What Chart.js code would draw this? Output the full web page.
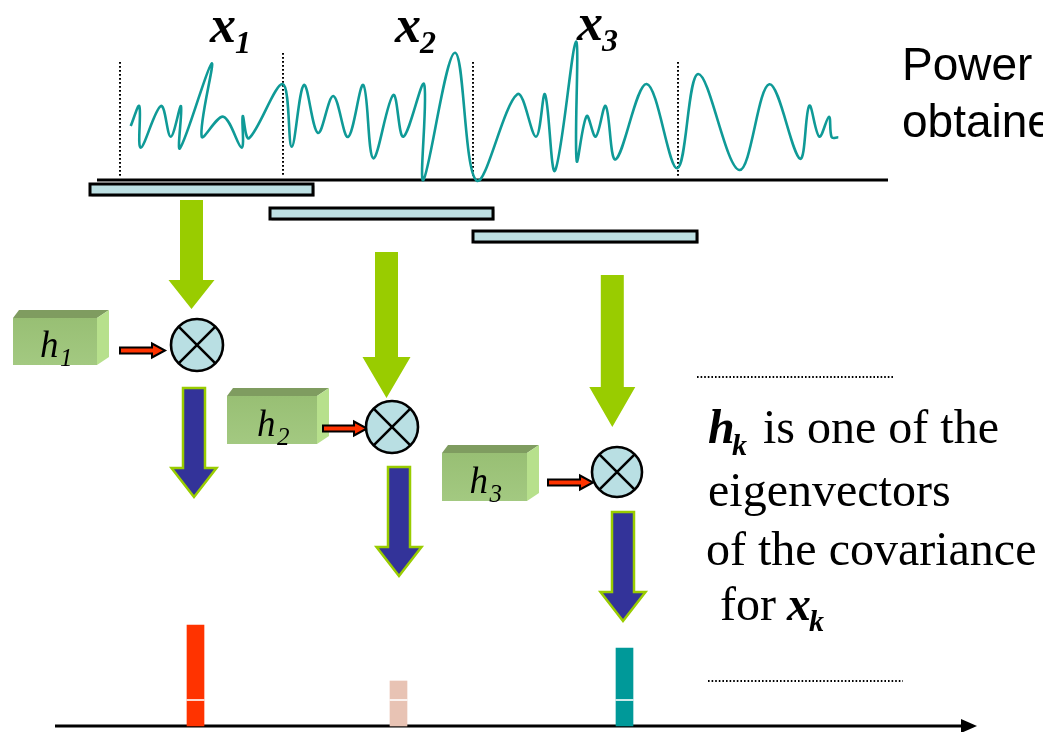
<!DOCTYPE html>
<html>
<head>
<meta charset="utf-8">
<script src="https://cdn.jsdelivr.net/npm/chart.js@4.4.1/dist/chart.umd.min.js"></script>
<style>
  html, body { margin: 0; padding: 0; background: #fff; }
  #wrap { width: 1043px; height: 732px; }
</style>
</head>
<body>
<div id="wrap"><canvas id="diagram" width="1043" height="732"></canvas></div>
<script>
// signal trace: position along time axis, amplitude above it
const waveX = [130.7, 139.3, 140.7, 161, 170.7, 181, 180, 211.7, 201.7, 223.3, 241.7, 242.7, 249,
  282.7, 291.7, 304, 318, 333.3, 348, 363.3, 373.3, 393.3, 403.3, 424, 423.3, 455, 476.7,
  517.3, 536, 545, 555, 576, 576.7, 586.7, 595.7, 605.7, 615.7, 646.7, 677.3, 698.3, 739.3,
  769.3, 800, 809.3, 819.3, 829, 831.7, 838.3];
const waveY = [54, 74, 32.3, 74, 43.3, 74, 31.7, 116.7, 43.3, 63.3, 32.3, 64, 41.7,
  96, 33.3, 95, 47, 84, 43, 95, 21.7, 85, 43.3, 96, 0, 127.3, -0.7,
  85.7, 43.3, 85.7, 9.3, 138.3, 19, 64, 43.3, 74, 20.7, 96, 11.7, 106, 10,
  95.7, 21.3, 74.3, 43.3, 63.3, 42.7, 42.7];

// frame boundaries (dotted marks) and their heights
const frameBounds = [120, 283, 473, 678];
const frameTops = [118, 127, 118, 118];
const frameLabels = ['1', '2', '3'];

// analysis windows along the signal
const windowStart = [90, 270, 473];
const windowEnd = [313, 493, 697];

// projected outputs h_k . x_k
const outputX = [195.5, 398.5, 624.5];
const outputValues = [101, 45, 78];
const outputSplit = 26;
const outputColors = ['#ff3300', '#e8c3b4', '#009999'];

// layout of the decorations (pixels)
const layout = {
  windowTop: [184, 208, 231], windowH: 11,
  labelX: [210, 395, 577], labelBase: [42, 42, 40],
  green: [[191.5, 200, 280, 309, 46], [386.5, 252, 357, 398, 48], [612.3, 275, 387, 427, 46]],
  circles: [[197, 345, 26], [392, 427, 26], [617, 472, 25]],
  boxes: [[13, 318, 97, 365], [227, 396, 317, 444], [442, 453, 527, 501]],
  reds: [[120, 165, 350.5], [323, 367, 428.5], [548, 593, 482.5]],
  blues: [[194, 388, 468, 497], [399, 467, 547, 576], [623, 512, 592, 621]]
};

function downArrow(c, cx, top, headTop, tip, shaftW, headW, fill, stroke) {
  c.beginPath();
  c.moveTo(cx - shaftW / 2, top);
  c.lineTo(cx + shaftW / 2, top);
  c.lineTo(cx + shaftW / 2, headTop);
  c.lineTo(cx + headW / 2, headTop);
  c.lineTo(cx, tip);
  c.lineTo(cx - headW / 2, headTop);
  c.lineTo(cx - shaftW / 2, headTop);
  c.closePath();
  c.fillStyle = fill;
  c.fill();
  if (stroke) {
    c.strokeStyle = stroke;
    c.lineWidth = 2.5;
    c.lineJoin = 'miter';
    c.stroke();
  }
}

function rightArrow(c, x0, x1, cy) {
  c.beginPath();
  c.moveTo(x0, cy - 3);
  c.lineTo(x1 - 13, cy - 3);
  c.lineTo(x1 - 13, cy - 7);
  c.lineTo(x1, cy);
  c.lineTo(x1 - 13, cy + 7);
  c.lineTo(x1 - 13, cy + 3);
  c.lineTo(x0, cy + 3);
  c.closePath();
  c.fillStyle = '#ff3300';
  c.fill();
  c.strokeStyle = '#000';
  c.lineWidth = 2;
  c.stroke();
}

function box3d(c, x0, y0, x1, y1, k) {
  const d = 12, h = 8;
  c.fillStyle = '#7f9c60';
  c.beginPath();
  c.moveTo(x0, y0); c.lineTo(x0 + 6, y0 - h); c.lineTo(x1 + d, y0 - h); c.lineTo(x1, y0);
  c.closePath(); c.fill();
  c.fillStyle = '#b7e08c';
  c.beginPath();
  c.moveTo(x1, y0); c.lineTo(x1 + d, y0 - h); c.lineTo(x1 + d, y1 - h); c.lineTo(x1, y1);
  c.closePath(); c.fill();
  const g = c.createLinearGradient(0, y0, 0, y1);
  g.addColorStop(0, '#98bf74');
  g.addColorStop(1, '#a3c981');
  c.fillStyle = g;
  c.fillRect(x0, y0, x1 - x0, y1 - y0);
  // label h_k
  c.fillStyle = '#000';
  c.font = 'italic 37px "Liberation Serif"';
  const hx = (x0 + x1) / 2 - 15;
  c.fillText('h', hx, y1 - 8);
  c.font = 'italic 25px "Liberation Serif"';
  c.fillText(k, hx + 20, y1 + 1);
}

function mulCircle(c, cx, cy, r) {
  c.beginPath();
  c.arc(cx, cy, r, 0, Math.PI * 2);
  c.fillStyle = '#b9dfe3';
  c.fill();
  c.strokeStyle = '#000';
  c.lineWidth = 2.6;
  c.stroke();
  const q = r * Math.SQRT1_2;
  c.beginPath();
  c.moveTo(cx - q, cy - q); c.lineTo(cx + q, cy + q);
  c.moveTo(cx + q, cy - q); c.lineTo(cx - q, cy + q);
  c.stroke();
}

function subText(c, x, y, main, sub, mainFont, subFont, subDx, subDy) {
  c.font = mainFont;
  c.fillText(main, x, y);
  c.font = subFont;
  c.fillText(sub, x + subDx, y + subDy);
}

const diagramPlugin = {
  id: 'diagram',
  afterDatasetsDraw(chart) {
    const c = chart.ctx;
    const X = v => chart.scales.x.getPixelForValue(v);
    const Y = v => chart.scales.yp.getPixelForValue(v);
    const Yo = v => chart.scales.yo.getPixelForValue(v);
    c.save();

    // analysis windows
    windowStart.forEach((s, i) => {
      const x0 = X(s), x1 = X(windowEnd[i]);
      const y0 = Y(layout.windowTop[i]), hh = layout.windowH;
      c.fillStyle = '#a8a8a8';
      c.fillRect(x0 + 1.5, y0 + 1.5, x1 - x0, hh);
      c.fillStyle = '#bde0e3';
      c.fillRect(x0, y0, x1 - x0, hh);
      c.strokeStyle = '#000';
      c.lineWidth = 3;
      c.strokeRect(x0, y0, x1 - x0, hh);
    });

    // green arrows into multipliers
    layout.green.forEach(a => downArrow(c, X(a[0]), Y(a[1]), Y(a[2]), Y(a[3]), 23, a[4], '#99cc00'));

    // eigenvector boxes
    layout.boxes.forEach((b, i) => box3d(c, X(b[0]), Y(b[1]), X(b[2]), Y(b[3]), frameLabels[i]));

    // red arrows
    layout.reds.forEach(r => rightArrow(c, X(r[0]), X(r[1]), Y(r[2])));

    // multipliers
    layout.circles.forEach(m => mulCircle(c, X(m[0]), Y(m[1]), m[2]));

    // blue result arrows
    layout.blues.forEach(b => downArrow(c, X(b[0]), Y(b[1]), Y(b[2]), Y(b[3]), 22, 45, '#333399', '#99cc00'));

    // split mark on output bars
    c.strokeStyle = '#fff';
    c.lineWidth = 1.6;
    outputX.forEach(x => {
      c.beginPath();
      c.moveTo(X(x) - 9, Yo(outputSplit));
      c.lineTo(X(x) + 9, Yo(outputSplit));
      c.stroke();
    });

    // arrowhead of output axis
    c.fillStyle = '#000';
    c.beginPath();
    c.moveTo(X(961), Yo(7));
    c.lineTo(X(977), Yo(0));
    c.lineTo(X(961), Yo(-7));
    c.closePath();
    c.fill();

    // dotted separators on the right
    c.strokeStyle = '#000';
    c.lineWidth = 1.8;
    c.setLineDash([1.6, 2]);
    c.beginPath();
    c.moveTo(X(697), Y(377)); c.lineTo(X(893), Y(377));
    c.moveTo(X(708), Y(681)); c.lineTo(X(903), Y(681));
    c.stroke();
    c.setLineDash([]);

    // frame labels x_k
    c.fillStyle = '#000';
    frameLabels.forEach((k, i) => {
      subText(c, X(layout.labelX[i]), Y(layout.labelBase[i]), 'x', k,
        'bold italic 52px "Liberation Serif"', 'bold italic 32px "Liberation Serif"', 25, 11);
    });

    // captions
    c.font = '46px "Liberation Sans"';
    c.fillText('Power', X(902), Y(80));
    c.fillText('obtained', X(902), Y(137));

    const serif = '48px "Liberation Serif"';
    subText(c, X(708), Y(443), 'h', 'k', 'bold italic 48px "Liberation Serif"', 'bold italic 30px "Liberation Serif"', 24, 12);
    c.font = serif;
    c.fillText('is one of the', X(763), Y(443));
    c.fillText('eigenvectors', X(708), Y(506));
    c.fillText('of the covariance', X(706), Y(565));
    c.fillText('for', X(720), Y(620));
    subText(c, X(787), Y(620), 'x', 'k', 'bold italic 48px "Liberation Serif"', 'bold italic 30px "Liberation Serif"', 22, 11);

    c.restore();
  }
};

const datasets = [];

// signal
datasets.push({
  type: 'line',
  data: waveX.map((x, i) => ({ x: x, y: waveY[i] })),
  yAxisID: 'yw',
  borderColor: '#0f9a97',
  borderWidth: 2.6,
  pointRadius: 0,
  tension: 0.35,
  fill: false
});

// time axis of signal
datasets.push({
  type: 'line',
  data: [{ x: 97, y: 0 }, { x: 888, y: 0 }],
  yAxisID: 'yw',
  borderColor: '#000',
  borderWidth: 3,
  pointRadius: 0
});

// frame boundaries
frameBounds.forEach((b, i) => {
  datasets.push({
    type: 'line',
    data: [{ x: b, y: frameTops[i] }, { x: b, y: 3 }],
    yAxisID: 'yw',
    borderColor: '#000',
    borderWidth: 2,
    borderDash: [1.8, 2.2],
    pointRadius: 0
  });
});

// output bars
datasets.push({
  type: 'bar',
  data: outputX.map((x, i) => ({ x: x, y: outputValues[i] })),
  yAxisID: 'yo',
  backgroundColor: outputColors,
  barThickness: 17,
  borderWidth: 0
});

// output axis
datasets.push({
  type: 'line',
  data: [{ x: 55, y: 0 }, { x: 962, y: 0 }],
  yAxisID: 'yo',
  borderColor: '#000',
  borderWidth: 2.8,
  pointRadius: 0
});

new Chart(document.getElementById('diagram'), {
  type: 'scatter',
  data: { datasets: datasets },
  options: {
    responsive: false,
    animation: false,
    layout: { padding: 0 },
    plugins: { legend: { display: false }, tooltip: { enabled: false } },
    scales: {
      x: { type: 'linear', min: 0, max: 1043, offset: false, display: false },
      yw: { type: 'linear', min: -552, max: 180, display: false },
      yo: { type: 'linear', min: -6, max: 726, display: false },
      yp: { type: 'linear', min: 0, max: 732, reverse: true, display: false }
    }
  },
  plugins: [diagramPlugin]
});
</script>
</body>
</html>
